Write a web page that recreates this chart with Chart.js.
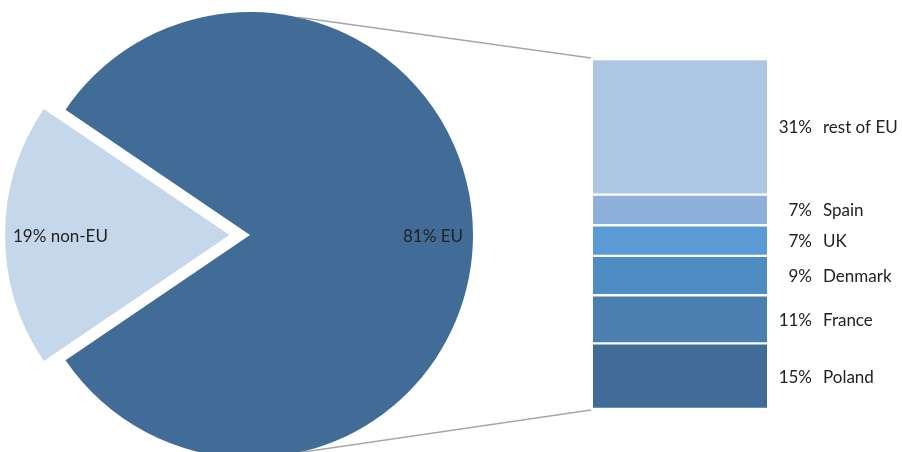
<!DOCTYPE html>
<html>
<head>
<meta charset="utf-8">
<script src="https://cdn.jsdelivr.net/npm/chart.js@4"></script>
<style>
html, body { margin: 0; padding: 0; width: 902px; height: 452px; overflow: hidden; background: #fff; }
#pieBox { position: absolute; left: -14px; top: -29px; width: 528px; height: 528px; }
#barBox { position: absolute; left: 0; top: 0; width: 902px; height: 452px; }
</style>
</head>
<body>
<div id="pieBox"><canvas id="pie"></canvas></div>
<div id="barBox"><canvas id="bar"></canvas></div>
<script>
const pieLabels = ['non-EU', 'EU'];
const pieValues = [19, 81];
const pieColors = ['#C5D7EB', '#406C97'];

const barLabels = ['Poland', 'France', 'Denmark', 'UK', 'Spain', 'rest of EU'];
const barValues = [15, 11, 9, 7, 7, 31];
const barColors = ['#406C97', '#4A7FB0', '#4F8CC4', '#5B9BD5', '#8EB0DD', '#ADC6E4'];

const FONT = '17px Lato, "Open Sans", sans-serif';
const TEXT = '#222222';

// labels inside the pie
const pieText = {
    id: 'pieText',
    afterDatasetsDraw(chart) {
        const arcs = chart.getDatasetMeta(0).data;
        const ctx = chart.ctx;
        ctx.save();
        ctx.font = FONT;
        ctx.fillStyle = TEXT;
        ctx.textBaseline = 'middle';
        const a0 = arcs[0], a1 = arcs[1];
        ctx.textAlign = 'left';
        ctx.fillText(pieValues[0] + '% ' + pieLabels[0], a0.x - a0.outerRadius - 14, a0.y + 2);
        ctx.textAlign = 'right';
        ctx.fillText(pieValues[1] + '% ' + pieLabels[1], a1.x + a1.outerRadius - 10, a1.y + 2);
        ctx.restore();
    }
};

const pieChart = new Chart(document.getElementById('pie'), {
    type: 'pie',
    data: {
        labels: pieLabels,
        datasets: [{
            data: pieValues,
            backgroundColor: pieColors,
            borderWidth: 0,
            offset: [82, 0]
        }]
    },
    options: {
        responsive: true,
        maintainAspectRatio: false,
        animation: false,
        events: [],
        rotation: 270 - pieValues[0] * 1.8,
        plugins: { legend: { display: false }, tooltip: { enabled: false } }
    },
    plugins: [pieText]
});

// labels right of the bar + connector lines to the pie
const barText = {
    id: 'barText',
    afterDatasetsDraw(chart) {
        const ctx = chart.ctx;
        const area = chart.chartArea;

        // connector lines
        const arc = pieChart.getDatasetMeta(0).data[1];
        const pr = pieChart.canvas.getBoundingClientRect();
        const cx = pr.left + arc.x, cy = pr.top + arc.y, r = arc.outerRadius;
        const ang = 77.5 * Math.PI / 180;
        ctx.save();
        ctx.strokeStyle = '#A6A6A6';
        ctx.lineWidth = 1.5;
        ctx.beginPath();
        ctx.moveTo(cx + r * Math.cos(-ang), cy + r * Math.sin(-ang));
        ctx.lineTo(area.left - 2, area.top - 1);
        ctx.moveTo(cx + r * Math.cos(ang), cy + r * Math.sin(ang));
        ctx.lineTo(area.left - 2, area.bottom + 1);
        ctx.stroke();

        ctx.font = FONT;
        ctx.fillStyle = TEXT;
        ctx.textBaseline = 'middle';
        chart.data.datasets.forEach((ds, i) => {
            const bar = chart.getDatasetMeta(i).data[0];
            const y = (bar.y + bar.base) / 2 + 1;
            const right = bar.x + bar.width / 2;
            ctx.textAlign = 'right';
            ctx.fillText(ds.data[0] + '%', right + 45, y);
            ctx.textAlign = 'left';
            ctx.fillText(ds.label, right + 56, y);
        });
        ctx.restore();
    }
};

new Chart(document.getElementById('bar'), {
    type: 'bar',
    data: {
        labels: [''],
        datasets: barLabels.map((name, i) => ({
            label: name,
            data: [barValues[i]],
            backgroundColor: barColors[i],
            borderColor: '#ffffff',
            borderWidth: { top: 1.5, bottom: 1.5, left: 0, right: 0 },
            borderSkipped: false,
            barPercentage: 1,
            categoryPercentage: 1
        }))
    },
    options: {
        responsive: true,
        maintainAspectRatio: false,
        animation: false,
        events: [],
        layout: { padding: { left: 593, right: 135, top: 59, bottom: 43 } },
        scales: {
            x: { display: false, stacked: true },
            y: { display: false, stacked: true, min: 0, max: 80 }
        },
        plugins: { legend: { display: false }, tooltip: { enabled: false } }
    },
    plugins: [barText]
});
</script>
</body>
</html>
